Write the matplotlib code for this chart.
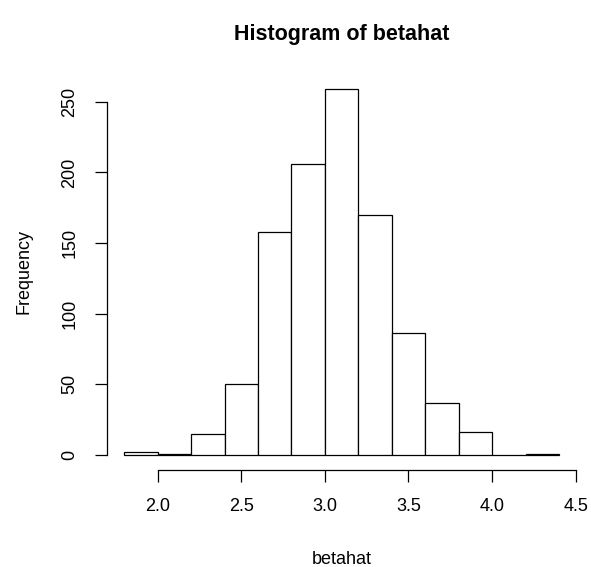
import matplotlib.pyplot as plt
import numpy as np

plt.rcParams['font.family'] = ['Liberation Sans', 'DejaVu Sans']

# histogram data
bin_edges = [1.8, 2.0, 2.2, 2.4, 2.6, 2.8, 3.0, 3.2, 3.4, 3.6, 3.8, 4.0, 4.2, 4.4]
counts = [2, 1, 15, 50, 158, 206, 259, 170, 86, 37, 16, 0, 1]
x_ticks = [2.0, 2.5, 3.0, 3.5, 4.0, 4.5]
y_ticks = [0, 50, 100, 150, 200, 250]

fig = plt.figure(figsize=(5.91, 5.67), dpi=100)
ax = fig.add_axes([0.1807, 0.1718, 0.7946, 0.697])

lefts = np.array(bin_edges[:-1])
widths = np.diff(bin_edges)
ax.bar(lefts, counts, width=widths, align='edge', color='white',
       edgecolor='black', linewidth=0.9)

# R style axes: 4% padding, no box
xr = bin_edges[-1] - bin_edges[0]
ax.set_xlim(bin_edges[0] - 0.04 * xr, bin_edges[-1] + 0.04 * xr)
ymax = max(counts)
ax.set_ylim(-0.04 * ymax, ymax * 1.04)

for s in ['top', 'right']:
    ax.spines[s].set_visible(False)
ax.spines['left'].set_bounds(y_ticks[0], y_ticks[-1])
ax.spines['bottom'].set_bounds(x_ticks[0], x_ticks[-1])
ax.spines['left'].set_linewidth(0.9)
ax.spines['bottom'].set_linewidth(0.9)

ax.set_xticks(x_ticks)
ax.set_xticklabels(['%.1f' % v for v in x_ticks])
ax.set_yticks(y_ticks)
ax.set_yticklabels([str(v) for v in y_ticks], rotation=90, va='center')
ax.tick_params(direction='out', length=8.6, width=0.9, pad=12, labelsize=13)

ax.set_xlabel('betahat', fontsize=13, labelpad=26)
ax.set_ylabel('Frequency', fontsize=13, labelpad=21)
ax.set_title('Histogram of betahat', fontsize=15.5, fontweight='bold', pad=25)

plt.savefig('out.png', dpi=100)
